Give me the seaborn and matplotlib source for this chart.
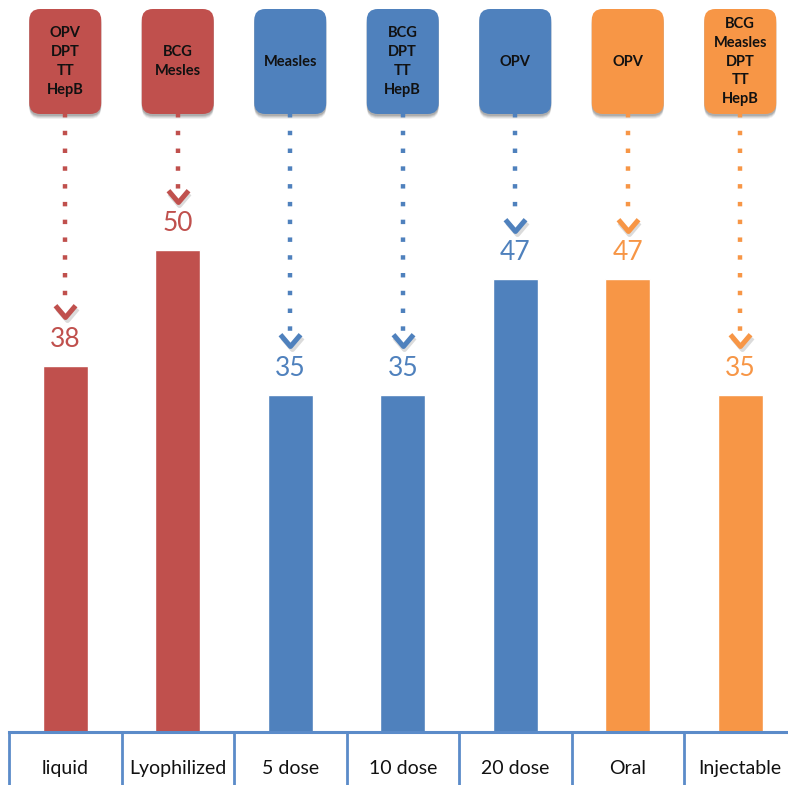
import numpy as np
import pandas as pd
import matplotlib
matplotlib.use("Agg")
import matplotlib.pyplot as plt
from matplotlib.patches import FancyBboxPatch
import seaborn as sns

# Vaccine presentation categories and their values
categories = ["liquid", "Lyophilized", "5 dose", "10 dose", "20 dose", "Oral", "Injectable"]
values = [38, 50, 35, 35, 47, 47, 35]
groups = ["form", "form", "vial", "vial", "vial", "route", "route"]
callouts = [
    "OPV\nDPT\nTT\nHepB",
    "BCG\nMesles",
    "Measles",
    "BCG\nDPT\nTT\nHepB",
    "OPV",
    "OPV",
    "BCG\nMeasles\nDPT\nTT\nHepB",
]

group_colors = {"form": "#C0504D", "vial": "#4F81BD", "route": "#F79646"}
axis_blue = "#5B8BC9"

sns.set_theme(style="white")
plt.rcParams["font.family"] = ["Lato", "DejaVu Sans"]

df = pd.DataFrame({"category": categories, "value": values, "group": groups})
palette = {c: group_colors[g] for c, g in zip(categories, groups)}

W, H, DPI = 788, 785, 100
fig = plt.figure(figsize=(W / DPI, H / DPI), dpi=DPI)
fig.patch.set_facecolor("white")

# axes geometry in pixels
ax_left, ax_bottom, cat_px, ax_h = 9, 53, 112.5, 732
n = len(categories)
ax = fig.add_axes([ax_left / W, ax_bottom / H, n * cat_px / W, ax_h / H])

sns.barplot(data=df, x="category", y="value", hue="category", palette=palette,
            width=0.4, saturation=1, legend=False, ax=ax, order=categories)

px_per_unit = 9.64
ymax = ax_h / px_per_unit
ax.set_xlim(-0.5, n - 0.5)
ax.set_ylim(0, ymax)
px_x = cat_px  # pixels per x unit

# spines and ticks
for s in ["top", "right", "left"]:
    ax.spines[s].set_visible(False)
ax.spines["bottom"].set_color(axis_blue)
ax.spines["bottom"].set_linewidth(2.2)
ax.set_yticks([])
ax.set_xlabel("")
ax.set_ylabel("")
ax.set_xticks(range(n))
ax.set_xticklabels(categories, fontsize=14, color="#111111")
ax.tick_params(axis="x", which="both", bottom=True)
ax.tick_params(axis="x", which="major", length=0, pad=20)
ax.set_xticks(np.arange(-0.5, n, 1.0), minor=True)
ax.tick_params(axis="x", which="minor", length=45, width=2.0, color=axis_blue,
               direction="out")

def py(px_from_top):
    """Convert a pixel distance from the top of the axes to data y."""
    return (ax_h - px_from_top) / px_per_unit

box_w = 72 / px_x
box_top, box_bot = py(9), py(114)
aspect = px_x / px_per_unit
rsize = 11 / px_x
chevron = [(-0.85, 1.0), (0, 0), (0.85, 1.0)]

for i, (txt, v, g) in enumerate(zip(callouts, values, groups)):
    col = group_colors[g]
    # soft shadow under the callout box
    for k, a in [(5, 0.06), (4, 0.08), (3, 0.10), (2, 0.12)]:
        sh = FancyBboxPatch((i - box_w / 2, box_bot - k / px_per_unit),
                            box_w, box_top - box_bot,
                            boxstyle=f"round,pad=0,rounding_size={rsize}",
                            mutation_aspect=aspect, fc="black", ec="none",
                            alpha=a, zorder=3, clip_on=False)
        ax.add_patch(sh)
    box = FancyBboxPatch((i - box_w / 2, box_bot), box_w, box_top - box_bot,
                         boxstyle=f"round,pad=0,rounding_size={rsize}",
                         mutation_aspect=aspect, fc=col, ec="none", zorder=4,
                         clip_on=False)
    ax.add_patch(box)
    ax.text(i, (box_top + box_bot) / 2, txt, ha="center", va="center",
            fontsize=10.5, fontweight="bold", color="#111111", linespacing=1.43,
            zorder=5)

    # dotted pointer from the box down to the bar
    tip = v + 5
    ax.plot([i, i], [box_bot + 0.1, tip + 1.2], color=col, lw=3.2,
            linestyle=(0, (1, 3.0)), solid_capstyle="butt",
            dash_capstyle="butt", zorder=4)
    ax.plot([i + 0.012], [tip - 0.3], marker=chevron,
            markersize=17, markerfacecolor="none", markeredgecolor="#888888",
            markeredgewidth=3.6, alpha=0.3, zorder=3, linestyle="none")
    ax.plot([i], [tip], marker=chevron,
            markersize=17, markerfacecolor="none", markeredgecolor=col,
            markeredgewidth=3.6, zorder=4, linestyle="none")

    # value label above the bar
    ax.text(i, v + 2.7, f"{v}", ha="center", va="center", fontsize=19,
            color=col, zorder=5)

fig.savefig("out.png", dpi=DPI, facecolor="white")
